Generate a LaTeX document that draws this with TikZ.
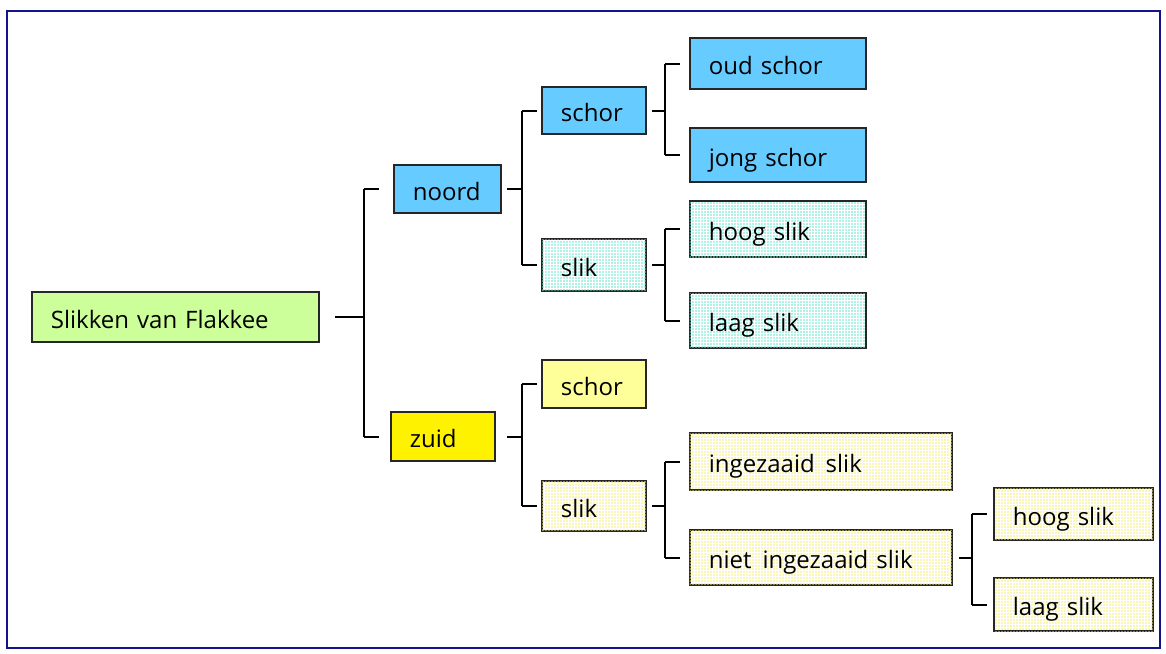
\documentclass[tikz,border=0pt]{standalone}
\usepackage{fontspec}
\setmainfont{Open Sans}
\usepackage{tikz}
\usetikzlibrary{positioning,calc,patterns}
\usepackage{xcolor}

\definecolor{skyblue}{HTML}{66CCFF}
\definecolor{lightgreen}{HTML}{CCFF99}
\definecolor{paleyellow}{HTML}{FFFF99}
\definecolor{aquadot}{HTML}{5EE8C6}
\definecolor{yellowdot}{HTML}{F5EE70}
\definecolor{framenavy}{HTML}{14148A}

\pgfdeclarepatternformonly{bigdots}{\pgfqpoint{-1.5pt}{-1.5pt}}{\pgfqpoint{1.5pt}{1.5pt}}{\pgfqpoint{3pt}{3pt}}{%
  \pgfpathcircle{\pgfqpoint{0pt}{0pt}}{0.95pt}\pgfusepath{fill}}

\tikzset{
  box/.style={draw=black!85, line width=1.8pt, rectangle, anchor=west,
    align=left, inner xsep=19pt, inner ysep=0pt, text height=22pt, text depth=0pt},
  dotsaqua/.style={fill=white, postaction={pattern=bigdots, pattern color=aquadot}},
  dotsyellow/.style={fill=white, postaction={pattern=bigdots, pattern color=yellowdot}},
  link/.style={line width=2pt, black}
}

\begin{document}
\begin{tikzpicture}[x=1pt, y=-1pt, font=\fontsize{24}{28}\selectfont]
    \useasboundingbox (0,0) rectangle (1166,653);
    \draw[framenavy, line width=2.5pt] (7,11) rectangle (1160,648);

    % root
    \node[box, fill=lightgreen, text width=249pt, minimum height=50pt] (root) at (31,317) {Slikken van Flakkee};

    % noord / zuid
    \node[box, fill=skyblue, text width=69pt, minimum height=48pt] (noord) at (393,189) {noord};
    \node[box, fill=yellow, text width=66pt, minimum height=49pt] (zuid) at (390,436.5) {zuid};

    % noord
    \node[box, fill=skyblue, text width=66pt, minimum height=47pt] (schorN) at (541,110.5) {schor};
    \node[box, dotsaqua, text width=66pt, minimum height=52pt] (slikN) at (541,265) {slik};
    \node[box, fill=skyblue, text width=138pt, minimum height=51pt] (oudschor) at (689,63.5) {oud schor};
    \node[box, fill=skyblue, text width=138pt, minimum height=54pt] (jongschor) at (689,155) {jong schor};
    \node[box, dotsaqua, text width=138pt, minimum height=56pt] (hoogN) at (689,229) {hoog slik};
    \node[box, dotsaqua, text width=138pt, minimum height=55pt] (laagN) at (689,320.5) {laag slik};

    % zuid
    \node[box, fill=paleyellow, text width=66pt, minimum height=48pt] (schorZ) at (541,384) {schor};
    \node[box, dotsyellow, text width=66pt, minimum height=50pt] (slikZ) at (541,506) {slik};
    \node[box, dotsyellow, text width=224pt, minimum height=57pt] (ingez) at (689,461.5) {ingezaaid\hspace{0.12em} slik};
    \node[box, dotsyellow, text width=224pt, minimum height=55pt] (nietingez) at (689,557.5) {niet\hspace{0.12em} ingezaaid slik};
    \node[box, dotsyellow, text width=121pt, minimum height=52pt] (hoogZ) at (993,514) {hoog slik};
    \node[box, dotsyellow, text width=121pt, minimum height=53pt] (laagZ) at (993,604.5) {laag slik};

    % brackets: parent/child1/child2/gap/junction
    \foreach \p/\a/\b/\g/\d in {root/noord/zuid/15/44, noord/schorN/slikN/5/20,
        zuid/schorZ/slikZ/11/26, schorN/oudschor/jongschor/5/18,
        slikN/hoogN/laagN/5/18, slikZ/ingez/nietingez/5/18,
        nietingez/hoogZ/laagZ/6/19} {
      \path (\p.east) ++(\d,0) coordinate (j\p);
      \draw[link] ([xshift=\g pt]\p.east) -- (j\p);
      \draw[link] (j\p |- \a.west) -- (j\p |- \b.west);
      \draw[link] (j\p |- \a.west) -- ++(15,0);
      \draw[link] (j\p |- \b.west) -- ++(15,0);
    }
\end{tikzpicture}
\end{document}
